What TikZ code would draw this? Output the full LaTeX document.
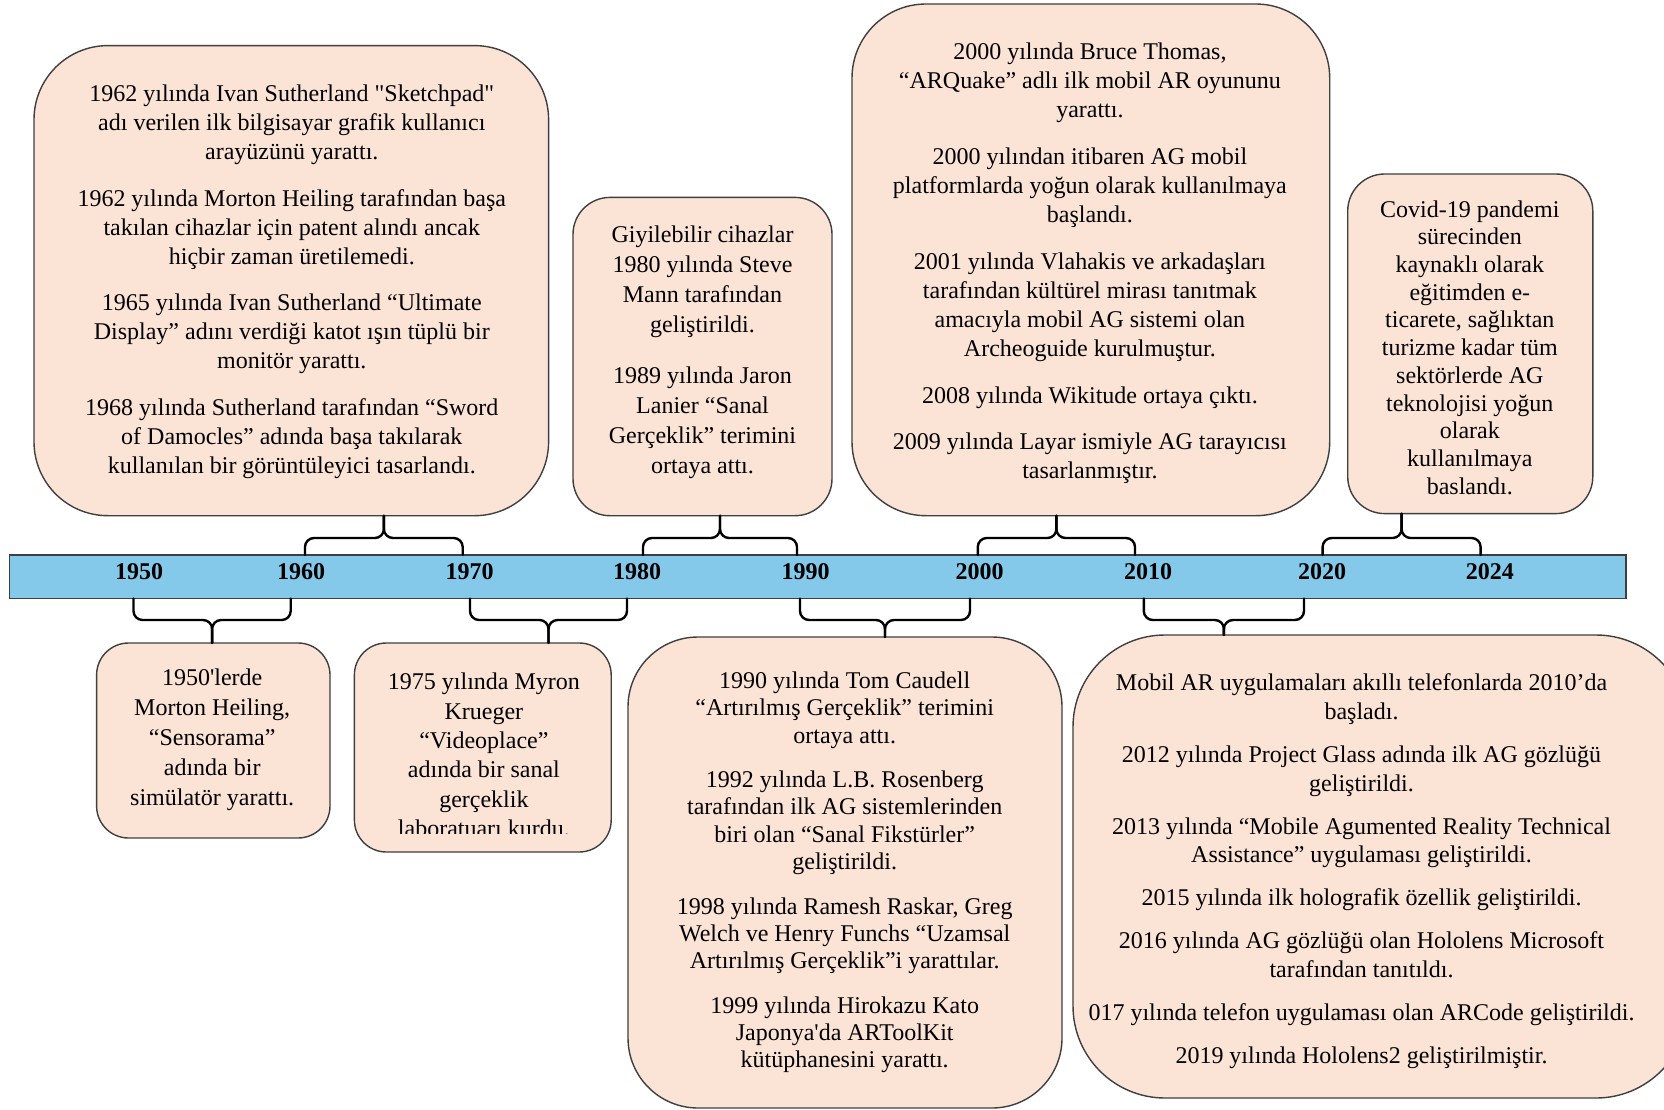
\documentclass[tikz,border=0pt]{standalone}
\usepackage{fontspec}
\setmainfont{Liberation Serif}[Ligatures=TeXOff]
\definecolor{peach}{HTML}{FBE3D6}
\definecolor{barblue}{HTML}{84C9EA}
\definecolor{edgegray}{HTML}{3F3F3F}
\tikzset{
  evbox/.style={draw=edgegray, fill=peach, line width=1.4pt, inner sep=0pt, outer sep=0pt, anchor=north west},
  evtext/.style={align=center, inner sep=0pt, text=black},
  yearlbl/.style={font=\bfseries\fontsize{24}{28}\selectfont, inner sep=0pt},
  brc/.style={line width=2.4pt, rounded corners=9pt, line cap=round, line join=round, draw=black},
  barbox/.style={draw=edgegray, fill=barblue, line width=1.4pt, inner sep=0pt, outer sep=0pt, anchor=north west}
}
\begin{document}
\begin{tikzpicture}[x=1pt,y=-1pt]
\useasboundingbox (0,0) rectangle (1664,1110);
\fill[white] (0,0) rectangle (1664,1110);

% timeline bar
\node[barbox, minimum width=1616.5pt, minimum height=43.5pt] (bar) at (9.5,555) {};

% boxes
\node[evbox, rounded corners=74pt, minimum width=514.6pt, minimum height=470.1pt] (box1) at (34,45.6) {};
\node[evbox, rounded corners=37pt, minimum width=259pt, minimum height=318.3pt] (box2) at (573,197.4) {};
\node[evbox, rounded corners=74pt, minimum width=477.7pt, minimum height=511.7pt] (box3) at (852,4) {};
\node[evbox, rounded corners=37pt, minimum width=245.1pt, minimum height=339.6pt] (box4) at (1347.7,174) {};
\node[evbox, rounded corners=32pt, minimum width=233.4pt, minimum height=195pt] (boxa) at (96.6,643) {};
\node[evbox, rounded corners=32pt, minimum width=256.8pt, minimum height=209pt] (boxb) at (354.4,643) {};
\node[evbox, rounded corners=70pt, minimum width=434pt, minimum height=471pt] (boxc) at (628,637) {};
\node[evbox, rounded corners=92pt, minimum width=615pt, minimum height=463pt] (boxd) at (1073,635) {};

% brace coordinates (top)
\coordinate (t1l) at (305,555);   \coordinate (t1m) at (383.9,538);  \coordinate (t1r) at (462.7,555);
\coordinate (t2l) at (643,555);   \coordinate (t2m) at (720,538);    \coordinate (t2r) at (797,555);
\coordinate (t3l) at (977.8,555); \coordinate (t3m) at (1056.4,538); \coordinate (t3r) at (1135,555);
\coordinate (t4l) at (1322.6,555);\coordinate (t4m) at (1401.6,538); \coordinate (t4r) at (1480.6,555);
% brace coordinates (bottom)
\coordinate (b1l) at (133.5,598.5); \coordinate (b1m) at (212.1,620); \coordinate (b1r) at (290.7,598.5);
\coordinate (b2l) at (470,598.5);   \coordinate (b2m) at (548.5,620); \coordinate (b2r) at (627,598.5);
\coordinate (b3l) at (800,598.5);   \coordinate (b3m) at (885,620);   \coordinate (b3r) at (970,598.5);
\coordinate (b4l) at (1143.8,598.5);\coordinate (b4m) at (1223.9,620);\coordinate (b4r) at (1304,598.5);

% top braces
\draw[brc] (t1l) |- (t1m) -- (t1m |- box1.south);
\draw[brc] (t1m |- box1.south) -- (t1m) -| (t1r);
\draw[brc] (t2l) |- (t2m) -- (t2m |- box2.south);
\draw[brc] (t2m |- box2.south) -- (t2m) -| (t2r);
\draw[brc] (t3l) |- (t3m) -- (t3m |- box3.south);
\draw[brc] (t3m |- box3.south) -- (t3m) -| (t3r);
\draw[brc] (t4l) |- (t4m) -- (t4m |- box4.south);
\draw[brc] (t4m |- box4.south) -- (t4m) -| (t4r);
% bottom braces
\draw[brc] (b1l) |- (b1m) -- (b1m |- boxa.north);
\draw[brc] (b1m |- boxa.north) -- (b1m) -| (b1r);
\draw[brc] (b2l) |- (b2m) -- (b2m |- boxb.north);
\draw[brc] (b2m |- boxb.north) -- (b2m) -| (b2r);
\draw[brc] (b3l) |- (b3m) -- (b3m |- boxc.north);
\draw[brc] (b3m |- boxc.north) -- (b3m) -| (b3r);
\draw[brc] (b4l) |- (b4m) -- (b4m |- boxd.north);
\draw[brc] (b4m |- boxd.north) -- (b4m) -| (b4r);

% year labels
\node[yearlbl] (y1950) at (139,572) {1950};
\node[yearlbl] (y1960) at (301,572) {1960};
\node[yearlbl] (y1970) at (469.5,572) {1970};
\node[yearlbl] (y1980) at (637,572) {1980};
\node[yearlbl] (y1990) at (805.7,572) {1990};
\node[yearlbl] (y2000) at (979.6,572) {2000};
\node[yearlbl] (y2010) at (1148,572) {2010};
\node[yearlbl] (y2020) at (1322,572) {2020};
\node[yearlbl] (y2024) at (1489.8,572) {2024};

% texts
\node[evtext, font=\fontsize{24}{29}\selectfont] (tx1) at (291.8,281.8) {%
1962 yılında Ivan Sutherland "Sketchpad"\\
adı verilen ilk bilgisayar grafik kullanıcı\\
arayüzünü yarattı.\\[17.7pt]
1962 yılında Morton Heiling tarafından başa\\
takılan cihazlar için patent alındı ancak\\
hiçbir zaman üretilemedi.\\[17.7pt]
1965 yılında Ivan Sutherland “Ultimate\\
Display” adını verdiği katot ışın tüplü bir\\
monitör yarattı.\\[17.7pt]
1968 yılında Sutherland tarafından “Sword\\
of Damocles” adında başa takılarak\\
kullanılan bir görüntüleyici tasarlandı.};

\node[evtext, font=\fontsize{24}{30}\selectfont] (tx2) at (702.5,352.2) {%
Giyilebilir cihazlar\\
1980 yılında Steve\\
Mann tarafından\\
geliştirildi.\\[21pt]
1989 yılında Jaron\\
Lanier “Sanal\\
Gerçeklik” terimini\\
ortaya attı.};

\node[evtext, font=\fontsize{24}{29}\selectfont] (tx3) at (1089.9,263.6) {%
2000 yılında Bruce Thomas,\\
“ARQuake” adlı ilk mobil AR oyununu\\
yarattı.\\[17.7pt]
2000 yılından itibaren AG mobil\\
platformlarda yoğun olarak kullanılmaya\\
başlandı.\\[17.7pt]
2001 yılında Vlahakis ve arkadaşları\\
tarafından kültürel mirası tanıtmak\\
amacıyla mobil AG sistemi olan\\
Archeoguide kurulmuştur.\\[17.7pt]
2008 yılında Wikitude ortaya çıktı.\\[17.7pt]
2009 yılında Layar ismiyle AG tarayıcısı\\
tasarlanmıştır.};

\node[evtext, font=\fontsize{24}{27.7}\selectfont] (tx4) at (1469.8,347.5) {%
Covid-19 pandemi\\
sürecinden\\
kaynaklı olarak\\
eğitimden e-\\
ticarete, sağlıktan\\
turizme kadar tüm\\
sektörlerde AG\\
teknolojisi yoğun\\
olarak\\
kullanılmaya\\
baslandı.};

\node[evtext, font=\fontsize{24}{30}\selectfont] (txa) at (212.2,740) {%
1950'lerde\\
Morton Heiling,\\
“Sensorama”\\
adında bir\\
simülatör yarattı.};

\begin{scope}
\clip (354,643) rectangle (612,833);
\node[evtext, font=\fontsize{24}{29.3}\selectfont] (txb) at (483.9,755) {%
1975 yılında Myron\\
Krueger\\
“Videoplace”\\
adında bir sanal\\
gerçeklik\\
laboratuarı kurdu.};
\end{scope}

\node[evtext, font=\fontsize{24}{27.3}\selectfont] (txc) at (844.7,872.5) {%
1990 yılında Tom Caudell\\
“Artırılmış Gerçeklik” terimini\\
ortaya attı.\\[17.3pt]
1992 yılında L.B. Rosenberg\\
tarafından ilk AG sistemlerinden\\
biri olan “Sanal Fikstürler”\\
geliştirildi.\\[17.3pt]
1998 yılında Ramesh Raskar, Greg\\
Welch ve Henry Funchs “Uzamsal\\
Artırılmış Gerçeklik”i yarattılar.\\[17.3pt]
1999 yılında Hirokazu Kato\\
Japonya'da ARToolKit\\
kütüphanesini yarattı.};

\node[evtext, font=\fontsize{24}{28.6}\selectfont] (txd) at (1361.5,871.3) {%
Mobil AR uygulamaları akıllı telefonlarda 2010’da\\
başladı.\\[14.4pt]
2012 yılında Project Glass adında ilk AG gözlüğü\\
geliştirildi.\\[14.4pt]
2013 yılında “Mobile Agumented Reality Technical\\
Assistance” uygulaması geliştirildi.\\[14.4pt]
2015 yılında ilk holografik özellik geliştirildi.\\[14.4pt]
2016 yılında AG gözlüğü olan Hololens Microsoft\\
tarafından tanıtıldı.\\[14.4pt]
017 yılında telefon uygulaması olan ARCode geliştirildi.\\[14.4pt]
2019 yılında Hololens2 geliştirilmiştir.};

\end{tikzpicture}
\end{document}
